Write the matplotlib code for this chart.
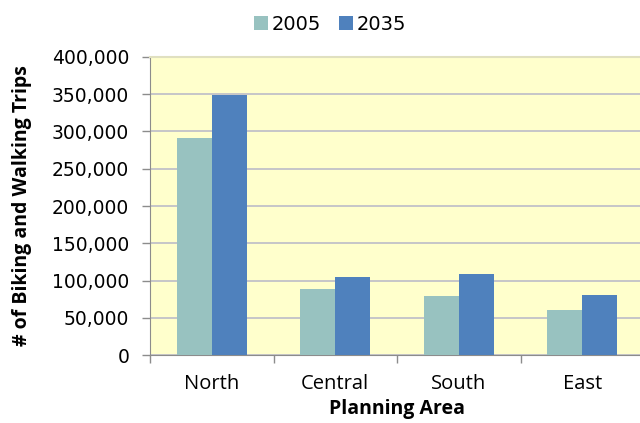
import numpy as np
import matplotlib.pyplot as plt
from matplotlib.ticker import FuncFormatter, FixedLocator

# --- DONNÉES ---
areas = ["North", "Central", "South", "East"]
trips_2005 = [291000, 89000, 79000, 60000]
trips_2035 = [349000, 105000, 109000, 81000]
series_labels = ["2005", "2035"]

COL_2005 = "#98C2C0"
COL_2035 = "#4F81BD"
FOND = "#FFFFCC"

fig = plt.figure(figsize=(6.4, 4.23), dpi=100)
ax = fig.add_axes([150/640, 68/423, 494/640, 298/423])
ax.set_facecolor(FOND)

x = np.arange(len(areas))
w = 0.285
ax.bar(x - w/2, trips_2005, w, color=COL_2005, label=series_labels[0], zorder=3)
ax.bar(x + w/2, trips_2035, w, color=COL_2035, label=series_labels[1], zorder=3)

ax.set_xlim(-0.5, len(areas) - 0.5)
ax.set_ylim(0, 400000)
ax.set_yticks(np.arange(0, 400001, 50000))
ax.yaxis.set_major_formatter(FuncFormatter(lambda v, p: f"{int(v):,}"))
ax.grid(axis='y', color="#BCBCC8", linewidth=1.2, zorder=0)

# ticks x : marques entre catégories, étiquettes au centre
ax.xaxis.set_major_locator(FixedLocator(np.arange(-0.5, len(areas), 1.0)))
ax.xaxis.set_major_formatter(FuncFormatter(lambda v, p: ""))
ax.xaxis.set_minor_locator(FixedLocator(x))
ax.set_xticklabels(areas, minor=True)
ax.tick_params(axis='x', which='major', length=6, color="#8C8C8C", width=1)
ax.tick_params(axis='x', which='minor', length=0, pad=14, labelsize=14.5)
for t in ax.get_xticklabels(minor=True):
    t.set_fontfamily("Open Sans")
ax.tick_params(axis='y', length=6, color="#8C8C8C", width=1, pad=9, labelsize=13.5)

ax.spines["right"].set_visible(False)
ax.spines["top"].set_color("#E0E0C0")
ax.spines["top"].set_linewidth(1.5)
ax.spines["left"].set_color("#8C8C8C")
ax.spines["bottom"].set_color("#8C8C8C")

ax.set_xlabel("Planning Area", fontfamily="Open Sans", fontweight="bold",
              fontsize=14, labelpad=3)
ax.set_ylabel("# of Biking and Walking Trips", fontfamily="Open Sans",
              fontweight="bold", fontsize=14, labelpad=14)

fig.legend(loc="center", bbox_to_anchor=(330/640, 1 - 24/423), ncol=2,
           frameon=False, fontsize=14, handlelength=0.72, handleheight=0.72,
           handletextpad=0.2, columnspacing=0.9)

plt.savefig("out.png", dpi=100)
